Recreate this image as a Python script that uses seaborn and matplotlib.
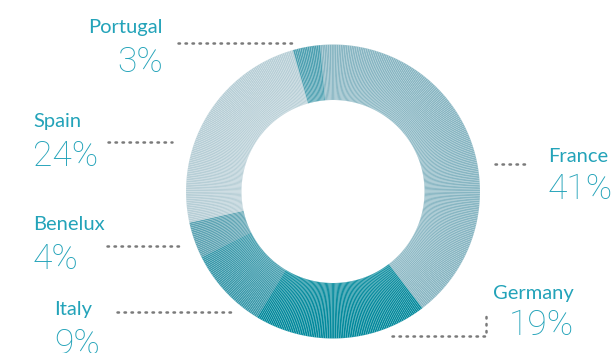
import matplotlib
matplotlib.use("Agg")
import matplotlib.pyplot as plt
import seaborn as sns

sns.set_theme(style="white")
plt.rcParams["font.family"] = ["Lato", "DejaVu Sans"]

# Market share by country, listed clockwise from the top
countries = ["France", "Germany", "Italy", "Benelux", "Spain", "Portugal"]
shares = [41, 19, 9, 4, 24, 3]
colors = ["#86b5c2", "#00889b", "#3597a9", "#5aa2b2", "#b6ced6", "#4b9fb0"]

W, H = 616, 353
fig = plt.figure(figsize=(W / 100, H / 100), dpi=100)
ax = fig.add_axes([0, 0, 1, 1])

cx, cy = 333, H - 191.5
r_out, r_in = 147, 91.5

# Split each share into thin slivers to give the ring a radial line texture
steps = 5
sub_vals, sub_cols = [], []
for v, c in zip(shares, colors):
    n = v * steps
    sub_vals += [v / n] * n
    sub_cols += [c] * n

ax.pie(sub_vals, colors=sub_cols, startangle=95, counterclock=False,
       center=(cx, cy), radius=r_out, frame=True,
       wedgeprops=dict(width=r_out - r_in, edgecolor=(1, 1, 1, 0.18), linewidth=0.4))
ax.set_xlim(0, W)
ax.set_ylim(0, H)
ax.set_aspect("equal")
ax.axis("off")

txt = "#23a3b9"
dot = "#7a7a7a"

def label(x, y_name, y_val, name, val, ha="left"):
    ax.text(x, H - y_name, name, color=txt, fontsize=14.5, ha=ha, va="center")
    ax.text(x, H - y_val, f"{val}%", color=txt, fontsize=25.5, ha=ha, va="center",
            family=["Roboto", "DejaVu Sans"], fontweight="light")

def dotted(xs, ys):
    ax.plot(xs, [H - y for y in ys], color=dot, linestyle=(0, (0.6, 2.2)),
            linewidth=1.8, dash_capstyle="round", solid_capstyle="round")

label(163, 28, 62, "Portugal", shares[5], ha="right")
dotted([178, 292], [43, 43])

label(33, 122, 156, "Spain", shares[4])
dotted([108, 172], [142, 142])

label(33, 225, 259, "Benelux", shares[3])
dotted([107, 183], [246, 246])

label(54, 310, 344, "Italy", shares[2])
dotted([117, 231], [312, 312])

label(548, 156, 189, "France", shares[0])
dotted([495, 530], [164, 164])

label(574, 293, 325, "Germany", shares[1], ha="right")
dotted([392, 486, 486], [336, 336, 313])

fig.savefig("out.png", dpi=100)
